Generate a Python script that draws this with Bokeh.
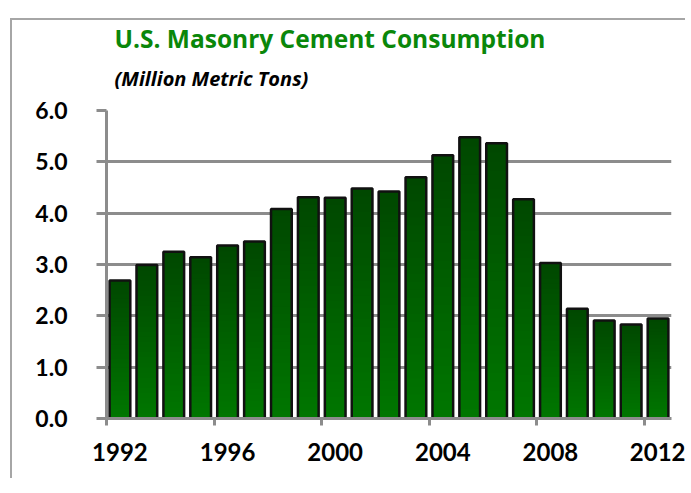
from bokeh.plotting import figure
from bokeh.models import ColumnDataSource, FixedTicker, Title, NumeralTickFormatter
from bokeh.embed import file_html
from bokeh.resources import INLINE

years = list(range(1992, 2013))
consumption = [2.69, 2.99, 3.25, 3.14, 3.37, 3.45, 4.08, 4.31, 4.30, 4.48, 4.42,
               4.70, 5.13, 5.48, 5.36, 4.27, 3.03, 2.14, 1.91, 1.83, 1.95]
x_tick_years = [1992, 1996, 2000, 2004, 2008, 2012]
x_tick_labels = ["1992", "1996", "2000", "2004", "2008", "2012"]
y_ticks = [0, 1, 2, 3, 4, 5, 6]

TITLE = "U.S. Masonry Cement Consumption"
SUBTITLE = "(Million Metric Tons)"

# gradient (top dark, bottom brighter), relative to each bar's height;
# overlapping bands drawn bottom-up so there are no seams
N = 30
c_bottom = (0x00, 0x76, 0x00)
c_top = (0x00, 0x48, 0x00)
bx, bb, bt, bc = [], [], [], []
for yr, v in zip(years, consumption):
    for k in range(N):
        f = k / (N - 1)
        col = tuple(int(round(c_bottom[j] + (c_top[j] - c_bottom[j]) * f)) for j in range(3))
        bx.append(yr)
        bb.append(v * k / N)
        bt.append(v)
        bc.append("#%02x%02x%02x" % col)
bands = ColumnDataSource(dict(x=bx, bottom=bb, top=bt, color=bc))
bars = ColumnDataSource(dict(x=years, top=consumption))

GRAY = "#8c8c8c"

p = figure(frame_width=565, frame_height=308, x_range=(1991.5, 2012.5), y_range=(0, 6),
           output_backend="svg", toolbar_location=None,
           min_border_left=94, min_border_top=90, min_border_right=14, min_border_bottom=60,
           background_fill_color="white", border_fill_color="white")
p.margin = (18, 0, 0, 10)
p.styles = {"border-top": "2px solid #a6a6a6", "border-left": "2px solid #a6a6a6"}
p.outline_line_color = None

p.vbar(x="x", bottom="bottom", top="top", width=0.77, source=bands,
       fill_color="color", line_color=None)
p.vbar(x="x", top="top", width=0.77, source=bars, fill_color=None,
       line_color="#111111", line_width=2.5)

# title / subtitle
p.add_layout(Title(text=SUBTITLE, text_font="Open Sans", text_font_style="bold italic",
                   text_font_size="20px", text_color="black", align="left",
                   offset=8, standoff=38), "above")
p.add_layout(Title(text=TITLE, text_font="Open Sans", text_font_style="bold",
                   text_font_size="24.5px", text_color="#0a870a", align="left",
                   offset=8, standoff=-23), "above")

# x axis
xa = p.xaxis[0]
xa.ticker = FixedTicker(ticks=x_tick_years, minor_ticks=[y - 0.5 for y in x_tick_years])
xa.major_label_overrides = {y: l for y, l in zip(x_tick_years, x_tick_labels)}
xa.major_tick_line_color = None
xa.major_tick_out = 0
xa.major_tick_in = 0
xa.minor_tick_line_color = GRAY
xa.minor_tick_line_width = 3
xa.minor_tick_out = 7
xa.minor_tick_in = 0
xa.axis_line_color = GRAY
xa.axis_line_width = 3
xa.major_label_text_font = "Lato"
xa.major_label_text_font_style = "bold"
xa.major_label_text_font_size = "24px"
xa.major_label_text_color = "black"
xa.major_label_standoff = 17

# y axis
ya = p.yaxis[0]
ya.ticker = FixedTicker(ticks=y_ticks)
ya.formatter = NumeralTickFormatter(format="0.0")
ya.minor_tick_line_color = None
ya.major_tick_line_color = GRAY
ya.major_tick_line_width = 3
ya.major_tick_out = 10
ya.major_tick_in = 0
ya.axis_line_color = GRAY
ya.axis_line_width = 3
ya.major_label_text_font = "Lato"
ya.major_label_text_font_style = "bold"
ya.major_label_text_font_size = "23px"
ya.major_label_text_color = "black"
ya.major_label_standoff = 29

p.xgrid.grid_line_color = None
p.ygrid.grid_line_color = GRAY
p.ygrid.grid_line_width = 3
p.ygrid.ticker = FixedTicker(ticks=y_ticks)

open("out.html", "w").write(file_html(p, INLINE))
